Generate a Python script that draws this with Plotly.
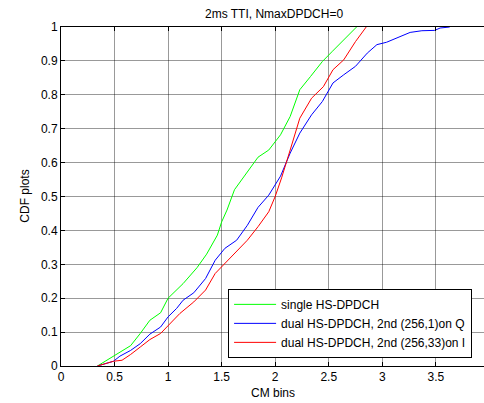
import plotly.graph_objects as go

single_x = [0.34, 0.49, 0.65, 0.74, 0.83, 0.93, 1.0, 1.14, 1.27, 1.36, 1.46, 1.50, 1.55, 1.62, 1.74, 1.84, 1.94, 2.05, 2.14, 2.23, 2.33, 2.44, 2.53, 2.64, 2.76]
single_y = [0.0, 0.03, 0.06, 0.096, 0.135, 0.157, 0.2, 0.243, 0.29, 0.33, 0.386, 0.425, 0.46, 0.52, 0.573, 0.616, 0.637, 0.682, 0.736, 0.815, 0.854, 0.898, 0.927, 0.962, 1.0]

dualq_x = [0.34, 0.49, 0.55, 0.65, 0.74, 0.83, 0.93, 1.0, 1.08, 1.14, 1.24, 1.35, 1.44, 1.53, 1.64, 1.74, 1.84, 1.94, 2.05, 2.14, 2.23, 2.34, 2.44, 2.54, 2.64, 2.75, 2.86, 2.95, 3.04, 3.17, 3.26, 3.37, 3.49, 3.54, 3.63]
dualq_y = [0.0, 0.014, 0.029, 0.046, 0.066, 0.094, 0.115, 0.145, 0.17, 0.194, 0.216, 0.258, 0.312, 0.347, 0.371, 0.415, 0.468, 0.504, 0.56, 0.628, 0.687, 0.741, 0.78, 0.835, 0.859, 0.884, 0.923, 0.948, 0.955, 0.972, 0.984, 0.989, 0.99, 0.997, 1.0]

duali_x = [0.34, 0.49, 0.57, 0.65, 0.74, 0.83, 0.93, 1.0, 1.11, 1.24, 1.35, 1.44, 1.53, 1.64, 1.74, 1.84, 1.94, 2.0, 2.06, 2.14, 2.23, 2.34, 2.45, 2.54, 2.64, 2.75, 2.85]
duali_y = [0.0, 0.014, 0.017, 0.034, 0.056, 0.078, 0.096, 0.12, 0.155, 0.189, 0.224, 0.273, 0.303, 0.337, 0.371, 0.411, 0.455, 0.5, 0.555, 0.637, 0.731, 0.79, 0.824, 0.874, 0.903, 0.957, 1.0]

x_ticks = [0, 0.5, 1, 1.5, 2, 2.5, 3, 3.5]
x_ticklabels = ["0", "0.5", "1", "1.5", "2", "2.5", "3", "3.5"]
y_ticks = [0, 0.1, 0.2, 0.3, 0.4, 0.5, 0.6, 0.7, 0.8, 0.9, 1]
y_ticklabels = ["0", "0.1", "0.2", "0.3", "0.4", "0.5", "0.6", "0.7", "0.8", "0.9", "1"]

FONT = "Liberation Sans, Arial, sans-serif"

fig = go.Figure()
fig.add_trace(go.Scatter(x=single_x, y=single_y, mode="lines", name="single HS-DPDCH",
                         line=dict(color="#00ff00", width=1)))
fig.add_trace(go.Scatter(x=dualq_x, y=dualq_y, mode="lines", name="dual HS-DPDCH, 2nd (256,1)on Q",
                         line=dict(color="#0000ff", width=1)))
fig.add_trace(go.Scatter(x=duali_x, y=duali_y, mode="lines", name="dual HS-DPDCH, 2nd (256,33)on I",
                         line=dict(color="#ff0000", width=1)))

grid = "rgba(0,0,0,0.4)"
fig.update_layout(
    width=484, height=403,
    margin=dict(l=61, r=0, t=27, b=37),
    paper_bgcolor="white", plot_bgcolor="white",
    font=dict(family=FONT, size=12, color="black"),
    showlegend=True,
    legend=dict(x=0.395, y=(366 - 289) / 338.4, xanchor="left", yanchor="top",
                bgcolor="white", bordercolor="black", borderwidth=1,
                font=dict(family=FONT, size=12, color="black"),
                itemwidth=42, tracegroupgap=0),
    xaxis=dict(range=[0, 3.95], tickvals=x_ticks, ticktext=x_ticklabels,
               ticks="inside", ticklen=4, tickcolor="black",
               showline=True, linecolor="black", linewidth=1, mirror="ticks",
               showgrid=True, gridcolor=grid, gridwidth=1, zeroline=False,
               tickfont=dict(size=12)),
    yaxis=dict(range=[0, 1], tickvals=y_ticks, ticktext=y_ticklabels,
               ticks="inside", ticklen=4, tickcolor="black",
               showline=True, linecolor="black", linewidth=1, mirror=False,
               showgrid=True, gridcolor=grid, gridwidth=1, zeroline=False,
               tickfont=dict(size=12)),
    annotations=[
        dict(text="2ms TTI, NmaxDPDCH=0", xref="paper", yref="paper",
             x=(274 - 61) / 423, y=1, yshift=13, showarrow=False,
             xanchor="center", yanchor="middle", font=dict(size=12)),
        dict(text="CM bins", xref="paper", yref="paper",
             x=(273 - 61) / 423, y=0, yshift=-27, showarrow=False,
             xanchor="center", yanchor="middle", font=dict(size=12)),
        dict(text="CDF plots", xref="paper", yref="paper",
             x=0, xshift=-36, y=(366 - 197) / 338.4, showarrow=False,
             textangle=-90, xanchor="center", yanchor="middle", font=dict(size=12)),
    ],
)

fig.write_html("out.html")
